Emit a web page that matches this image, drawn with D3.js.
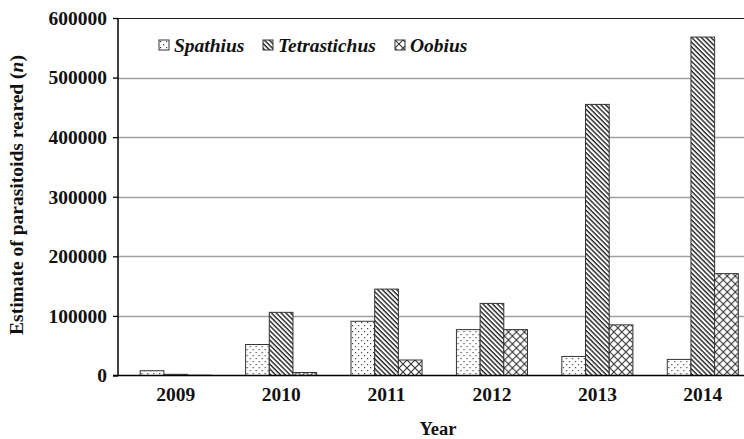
<!DOCTYPE html>
<html><head><meta charset="utf-8">
<script src="https://cdn.jsdelivr.net/npm/d3@7"></script>
<style>body{margin:0;background:#fff}svg{display:block}</style>
</head><body>
<svg id="c" width="744" height="439"></svg>
<script>
const years = ["2009","2010","2011","2012","2013","2014"];
const seriesNames = ["Spathius","Tetrastichus","Oobius"];
const spathius = [8000, 52000, 91000, 77000, 32000, 27000];
const tetrastichus = [2000, 106000, 145000, 121000, 455000, 568000];
const oobius = [500, 5000, 26000, 77000, 85000, 171000];
const yTicks = [0,100000,200000,300000,400000,500000,600000];

(function(){
const svg = d3.select("#c");
const font = "'Liberation Serif','Times New Roman',serif";
const plotLeft = 118, plotBottom = 375.5, plotTop = 18, rightEdge = 744;

const defs = svg.append("defs");
const pDot = defs.append("pattern").attr("id","pDot").attr("patternUnits","userSpaceOnUse").attr("width",6).attr("height",6);
pDot.append("rect").attr("width",6).attr("height",6).attr("fill","#fff");
pDot.append("rect").attr("x",1).attr("y",1).attr("width",1.2).attr("height",1.2).attr("fill","#444");
pDot.append("rect").attr("x",4).attr("y",4).attr("width",1.2).attr("height",1.2).attr("fill","#444");
const pDiag = defs.append("pattern").attr("id","pDiag").attr("patternUnits","userSpaceOnUse").attr("width",3.4).attr("height",10).attr("patternTransform","rotate(-45)");
pDiag.append("rect").attr("width",3.4).attr("height",10).attr("fill","#fff");
pDiag.append("line").attr("x1",1).attr("x2",1).attr("y1",0).attr("y2",10).attr("stroke","#222").attr("stroke-width",1.4);
const pX = defs.append("pattern").attr("id","pX").attr("patternUnits","userSpaceOnUse").attr("width",8).attr("height",8);
pX.append("rect").attr("width",8).attr("height",8).attr("fill","#fff");
pX.append("path").attr("d","M0,0L8,8M8,0L0,8").attr("stroke","#333").attr("stroke-width",1.1);
const fills = ["url(#pDot)","url(#pDiag)","url(#pX)"];

const y = d3.scaleLinear().domain([0,600000]).range([plotBottom, plotTop]);
const x = d3.scaleBand().domain(years).range([123, 755.5]).paddingInner(0.326).paddingOuter(0.163);
const xs = d3.scaleBand().domain(seriesNames).range([0, x.bandwidth()]);

svg.append("g").selectAll("line").data(yTicks.filter(d=>d>0)).join("line")
  .attr("x1",plotLeft).attr("x2",rightEdge)
  .attr("y1",d=>Math.round(y(d))+0.5).attr("y2",d=>Math.round(y(d))+0.5)
  .attr("stroke",d=>d===600000?"#222":"#a0a0a0").attr("stroke-width",d=>d===600000?1.2:1.4);

const data = [spathius, tetrastichus, oobius];
const groups = svg.append("g").selectAll("g").data(years).join("g")
  .attr("transform",d=>`translate(${x(d)},0)`);
groups.selectAll("rect").data((yr,i)=>seriesNames.map((s,j)=>({s,j,v:data[j][i]}))).join("rect")
  .attr("x",d=>xs(d.s)).attr("width",xs.bandwidth())
  .attr("y",d=>y(d.v)).attr("height",d=>plotBottom-y(d.v))
  .attr("fill",d=>fills[d.j]).attr("stroke","#333").attr("stroke-width",1);

const yAxis = d3.axisLeft(y).tickValues(yTicks).tickSize(5).tickPadding(6).tickFormat(d3.format("d"));
const ga = svg.append("g").attr("transform",`translate(${plotLeft},0)`).call(yAxis);
ga.select(".domain").attr("d",`M0,${plotTop}V${plotBottom}`).attr("stroke","#000").attr("stroke-width",1.5);
ga.selectAll(".tick line").attr("stroke","#000").attr("stroke-width",1.3);
ga.selectAll("text").attr("font-family",font).attr("font-weight","bold").attr("font-size",19.5).attr("fill","#111");

svg.append("line").attr("x1",plotLeft-5).attr("x2",rightEdge).attr("y1",plotBottom).attr("y2",plotBottom).attr("stroke","#000").attr("stroke-width",1.6);

const xAxis = d3.axisBottom(x).tickSize(0).tickPadding(12);
const gx = svg.append("g").attr("transform",`translate(0,${plotBottom})`).call(xAxis);
gx.select(".domain").remove();
gx.selectAll("text").attr("font-family",font).attr("font-weight","bold").attr("font-size",19.5).attr("fill","#111");

svg.append("text").attr("x",438).attr("y",435).attr("text-anchor","middle")
  .attr("font-family",font).attr("font-weight","bold").attr("font-size",18.5).attr("fill","#111").text("Year");
const yt = svg.append("text").attr("transform","translate(23,195) rotate(-90)").attr("text-anchor","middle")
  .attr("font-family",font).attr("font-weight","bold").attr("font-size",19.5).attr("fill","#111");
yt.append("tspan").text("Estimate of parasitoids  reared (");
yt.append("tspan").attr("font-style","italic").text("n");
yt.append("tspan").text(")");

const legX = [159, 263, 395];
const lg = svg.append("g").selectAll("g").data(seriesNames).join("g")
  .attr("transform",(d,i)=>`translate(${legX[i]},40)`);
lg.append("rect").attr("width",10).attr("height",10).attr("fill",(d,i)=>fills[i]).attr("stroke","#333").attr("stroke-width",1);
lg.append("text").attr("x",15).attr("y",11.5).attr("font-family",font).attr("font-weight","bold").attr("font-style","italic")
  .attr("font-size",19.5).attr("fill","#111").text(d=>d);
})();
</script>
</body></html>
